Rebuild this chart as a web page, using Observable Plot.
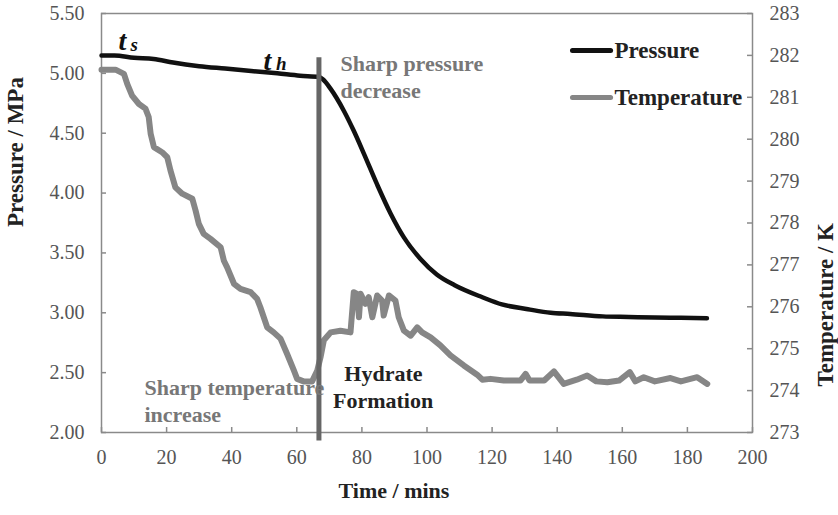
<!DOCTYPE html>
<html>
<head>
<meta charset="utf-8">
<script src="https://cdn.jsdelivr.net/npm/d3@7"></script>
<script src="https://cdn.jsdelivr.net/npm/@observablehq/plot@0.6"></script>
<style>
  html, body { margin: 0; padding: 0; background: #fff; }
  svg { display: block; }
  svg text { font-family: 'Liberation Serif', 'Times New Roman', serif !important; }
</style>
</head>
<body>
<div id="chart"></div>
<script>
// ---- data ----
const pressureTime = [0, 4, 10, 16, 22, 30, 38, 46, 54, 61, 66.8, 68, 70.4, 74.4, 77.5, 80.6, 84.7, 88.8, 92.9, 98, 103, 108.5, 117, 123, 131, 138, 144, 154, 162, 170, 178, 186];
const pressureMPa  = [5.15, 5.15, 5.13, 5.12, 5.09, 5.06, 5.04, 5.02, 5.00, 4.98, 4.97, 4.95, 4.87, 4.69, 4.52, 4.33, 4.07, 3.83, 3.63, 3.45, 3.32, 3.23, 3.13, 3.07, 3.03, 3.00, 2.99, 2.97, 2.965, 2.96, 2.958, 2.955];

const tempTime = [0, 4.3, 6.9, 7.9, 9.4, 11.5, 13.5, 14.5, 15.1, 16.1, 18.6, 20.2, 21.2, 22.7, 24.8, 27.9, 28.9, 29.9, 31.4, 33.5, 36.6, 37.6, 38.6, 40.7, 42.7, 45.8, 47.8, 48.8, 50.9, 52.9, 55.0, 57.0, 59.1, 60.1, 62.1, 64.7, 66.3, 67.3, 68.3, 70.4, 73.4, 76.5, 77.5, 78.5, 79.1, 79.6, 81.1, 82.1, 83.2, 84.7, 86.2, 86.7, 88.3, 90.3, 91.3, 92.9, 95, 97, 98.5, 101.1, 104.1, 107.2, 111.3, 115.4, 117, 119.5, 123.6, 128.7, 130.3, 131.5, 136, 139, 142, 146, 149.2, 152, 155.4, 159, 162.3, 164, 166.6, 170, 174.8, 178, 183, 186.1];
const tempK    = [281.66, 281.66, 281.56, 281.32, 281.04, 280.84, 280.73, 280.53, 280.13, 279.81, 279.69, 279.57, 279.25, 278.85, 278.70, 278.58, 278.30, 277.98, 277.74, 277.62, 277.42, 277.10, 276.94, 276.55, 276.43, 276.35, 276.19, 275.99, 275.51, 275.39, 275.24, 274.88, 274.48, 274.28, 274.22, 274.22, 274.48, 274.80, 275.20, 275.39, 275.43, 275.39, 276.35, 276.31, 275.75, 276.31, 276.07, 276.23, 275.75, 276.27, 276.15, 275.79, 276.27, 276.15, 275.75, 275.43, 275.31, 275.51, 275.39, 275.27, 275.08, 274.84, 274.60, 274.38, 274.26, 274.28, 274.24, 274.24, 274.40, 274.24, 274.24, 274.46, 274.16, 274.26, 274.36, 274.22, 274.20, 274.24, 274.44, 274.22, 274.32, 274.22, 274.30, 274.22, 274.32, 274.16];

const xTicks = [0, 20, 40, 60, 80, 100, 120, 140, 160, 180, 200];
const pTicks = [2.0, 2.5, 3.0, 3.5, 4.0, 4.5, 5.0, 5.5];
const tTicks = [273, 274, 275, 276, 277, 278, 279, 280, 281, 282, 283];

const hydrateOnset = [66.8];
const legendItems = ["Pressure", "Temperature"];
const notes = [
  {text: "Sharp pressure", x: 73.4, y: 5.082, fill: "#777", anchor: "start"},
  {text: "decrease", x: 73.4, y: 4.857, fill: "#777", anchor: "start"},
  {text: "Sharp temperature", x: 13.2, y: 2.376, fill: "#777", anchor: "start"},
  {text: "increase", x: 13.2, y: 2.150, fill: "#777", anchor: "start"},
  {text: "Hydrate", x: 86.6, y: 2.492, fill: "#222", anchor: "middle"},
  {text: "Formation", x: 86.5, y: 2.267, fill: "#222", anchor: "middle"}
];

// ---- build ----
const W = 838, H = 515;
const mL = 101, mR = 86, mT = 13, mB = 83;
const plotW = W - mL - mR, plotH = H - mT - mB;
const toP = d3.scaleLinear([273, 283], [2, 5.5]);

const pressure = pressureTime.map((t, i) => ({t, v: pressureMPa[i]}));
const temperature = tempTime.map((t, i) => ({t, v: toP(tempK[i])}));

const legendRows = [
  {name: legendItems[0], y: 5.191, color: "#111"},
  {name: legendItems[1], y: 4.798, color: "#868686"}
];

const serif = "'Liberation Serif', 'Times New Roman', serif";

const chart = Plot.plot({
  width: W, height: H,
  marginLeft: mL, marginRight: mR, marginTop: mT, marginBottom: mB,
  x: {domain: [0, 200]},
  y: {domain: [2, 5.5]},
  style: {fontFamily: serif, background: "#fff", color: "#111"},
  marks: [
    Plot.frame({stroke: "#8a8a8a", strokeWidth: 1.5}),
    Plot.tickY(pTicks, {y: d => d, stroke: "#8a8a8a", strokeWidth: 1.5, insetRight: plotW - 5}),
    Plot.tickY(tTicks.map(d => toP(d)), {y: d => d, stroke: "#8a8a8a", strokeWidth: 1.5, insetLeft: plotW - 5}),
    Plot.tickX(xTicks, {x: d => d, stroke: "#8a8a8a", strokeWidth: 1.5, insetTop: plotH - 5}),
    Plot.axisY({anchor: "left", ticks: pTicks, tickSize: 0, tickPadding: 17, tickFormat: d3.format(".2f"), fontSize: 20, fill: "#555", label: null}),
    Plot.axisY({anchor: "right", ticks: tTicks.map(d => toP(d)), tickSize: 0, tickPadding: 17, tickFormat: d => String(Math.round(toP.invert(d))), fontSize: 20, fill: "#555", label: null}),
    Plot.axisX({ticks: xTicks, tickSize: 0, tickPadding: 17, fontSize: 20, fill: "#555", label: null}),
    Plot.text(["Pressure / MPa"], {frameAnchor: "left", dx: -86, dy: 4, rotate: -90, fontSize: 23, fontWeight: "bold", fill: "#222"}),
    Plot.text(["Temperature / K"], {frameAnchor: "right", dx: 73, rotate: -90, fontSize: 23, fontWeight: "bold", fill: "#222"}),
    Plot.text(["Time / mins"], {frameAnchor: "bottom", dx: -33, dy: 65, fontSize: 22, fontWeight: "bold", fill: "#222"}),
    Plot.line(temperature, {x: "t", y: "v", stroke: "#868686", strokeWidth: 6, strokeLinejoin: "round", strokeLinecap: "round"}),
    Plot.line(pressure, {x: "t", y: "v", stroke: "#111", strokeWidth: 4.5, curve: "monotone-x", strokeLinecap: "round"}),
    Plot.ruleX(hydrateOnset, {x: d => d, y1: 1.93, y2: 5.13, stroke: "#666", strokeWidth: 5}),
    // legend
    Plot.link(legendRows, {x1: 144.7, x2: 156.4, y1: "y", y2: "y", stroke: "color", strokeWidth: 5, strokeLinecap: "round"}),
    Plot.text(legendRows, {x: 157.6, y: "y", text: "name", textAnchor: "start", fontSize: 23, fontWeight: "bold", fill: "#222"}),
    // annotations
    Plot.text(notes, {x: "x", y: "y", text: "text", fill: "fill", textAnchor: "start", filter: d => d.anchor === "start", fontSize: 22, fontWeight: "bold"}),
    Plot.text(notes, {x: "x", y: "y", text: "text", fill: "fill", textAnchor: "middle", filter: d => d.anchor === "middle", fontSize: 22, fontWeight: "bold"}),
    Plot.text(["t"], {x: 5.2, y: 5.274, textAnchor: "start", fontSize: 28, fontWeight: "bold", fontStyle: "italic", fill: "#111"}),
    Plot.text(["s"], {x: 8.9, y: 5.236, textAnchor: "start", fontSize: 19, fontWeight: "bold", fontStyle: "italic", fill: "#111"}),
    Plot.text(["t"], {x: 49.8, y: 5.107, textAnchor: "start", fontSize: 28, fontWeight: "bold", fontStyle: "italic", fill: "#111"}),
    Plot.text(["h"], {x: 53.6, y: 5.077, textAnchor: "start", fontSize: 19, fontWeight: "bold", fontStyle: "italic", fill: "#111"})
  ]
});
document.getElementById("chart").appendChild(chart);
</script>
</body>
</html>
